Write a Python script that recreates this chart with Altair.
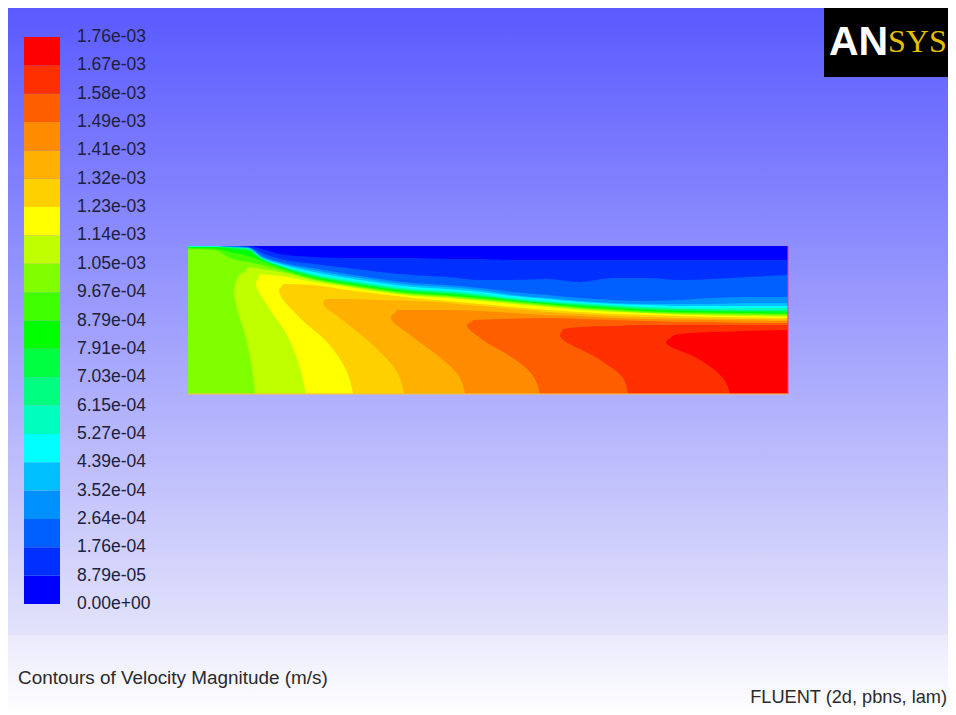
import altair as alt
import pandas as pd

PALETTE = ["#0000ff", "#0030ff", "#0060ff", "#0090ff", "#00bfff", "#00ffff", "#00ffbf",
           "#00ff80", "#00ff40", "#00ff00", "#40ff00", "#80ff00", "#bfff00", "#ffff00",
           "#ffd000", "#ffb000", "#ff8c00", "#ff5e00", "#ff3000", "#ff0000"]
LEVELS = [0.0, 8.79e-5, 1.758e-4, 2.637e-4, 3.516e-4, 4.395e-4, 5.274e-4, 6.153e-4, 7.032e-4, 7.911e-4, 8.79e-4,
          9.669e-4, 1.0548e-3, 1.1427e-3, 1.2306e-3, 1.3185e-3, 1.4064e-3, 1.4943e-3, 1.5822e-3, 1.6701e-3, 1.758e-3]
LABELS = ["0.00e+00", "8.79e-05", "1.76e-04", "2.64e-04", "3.52e-04", "4.39e-04", "5.27e-04", "6.15e-04",
          "7.03e-04", "7.91e-04", "8.79e-04", "9.67e-04", "1.05e-03", "1.14e-03", "1.23e-03", "1.32e-03",
          "1.41e-03", "1.49e-03", "1.58e-03", "1.67e-03", "1.76e-03"]

# Channel extent, in picture coordinates
X0, X1, Y0, Y1 = 188, 788, 246, 394

# Contours that run along the free surface: (colour band above the curve, x readings, y readings)
S = [188, 215, 230, 248, 262, 280, 313, 347, 380, 413, 447, 480, 513, 547, 580, 613, 647, 680, 713, 747, 788]
UPPER = [
    (18, [672, 680, 713, 747, 788], [336, 334, 332, 331, 330]),
    (17, [563, 580, 613, 647, 680, 713, 747, 788], [329, 327, 326, 325, 325, 325, 325, 325]),
    (16, [473, 500, 547, 580, 613, 647, 680, 713, 747, 788], [320, 319, 318, 319, 320, 321, 322, 322, 323, 323]),
    (15, [397, 413, 447, 480, 513, 547, 580, 613, 647, 680, 713, 747, 788],
     [310, 310, 310, 311, 313, 315, 316, 318, 319, 319.5, 320, 320.5, 321]),
    (14, [325, 347, 380, 413, 447, 480, 513, 547, 580, 613, 647, 680, 713, 747, 788],
     [299, 299, 300, 301, 303, 306, 309, 312, 314, 316, 317, 318, 318.5, 319, 319.5]),
    (13, [283, 313, 347, 380, 413, 447, 480, 513, 547, 580, 613, 647, 680, 713, 747, 788],
     [284, 285, 290, 294, 298, 301, 304, 307, 310, 312, 314, 315, 316, 317, 317.5, 318]),
    (12, [260, 280, 313, 347, 380, 413, 447, 480, 513, 547, 580, 613, 647, 680, 713, 747, 788],
     [274, 276, 282, 287, 292, 296, 298, 301, 304, 307, 310, 312, 313, 314.5, 315.5, 316, 316.5]),
    (11, S[3:], [267, 269, 272, 280, 286, 291, 295, 297, 300, 303, 306, 309, 311, 313, 314, 314.5, 315, 315.5]),
    (10, S, [249, 250, 258, 262, 265, 270, 279, 285, 290, 294, 296, 299, 302, 305, 308, 310, 312, 313, 313.5, 314, 314.5]),
    (9, S, [248, 248.5, 252, 256, 261, 268, 278, 284, 289, 293, 295, 298, 301, 304, 307, 309, 311, 312, 312.5, 313, 313.5]),
    (8, S, [247, 247, 249, 251, 260, 267, 277, 283, 288, 292, 294, 297, 300, 303, 306, 308, 310, 311, 311.5, 312, 312.5]),
    (7, S, [247, 247, 248, 250, 259, 266, 276, 282, 287, 291, 293, 296, 300, 303, 305, 307, 309, 310, 310.5, 311, 311]),
    (6, S, [246.5, 247, 247, 249, 259, 266, 275, 281, 286, 290, 292, 295, 299, 302, 304, 306, 308, 309, 309.5, 310, 310]),
    (5, S, [246.5, 246.5, 247, 248, 258, 265, 274, 280, 285, 289, 291, 294, 298, 301, 303, 305, 307, 308, 308.5, 308, 308]),
    (4, S, [246, 246, 247, 248, 258, 264, 272, 278, 283, 287, 289, 292, 296, 299, 302, 304, 305, 306, 306, 306, 306]),
    (3, S, [246, 246, 247, 248, 257, 263, 270, 276, 281, 285, 287, 290, 295, 298, 301, 303, 304, 304, 304, 303, 303]),
    (2, S, [246, 246, 246, 247, 256, 262, 268, 274, 279, 283, 285, 288, 292, 295, 298, 300, 301, 300, 298, 297, 297]),
    (1, S, [246, 246, 246, 247, 253, 259, 264, 268, 272, 275, 277, 280, 280, 279, 282, 278, 278, 280, 279, 277, 275]),
    (0, S, [246, 246, 246, 246, 249, 254, 257, 258, 258, 258, 259, 259, 260, 260, 260, 260, 260, 260, 260, 260, 260]),
]
# Contours that rise from the channel floor: (colour band to the right, y readings, x readings)
LOWER = [
    (12, [267, 277, 292, 308, 335, 368, 394], [248, 238, 234, 237, 245, 252, 255]),
    (13, [274, 283, 305, 335, 368, 394], [260, 256, 267, 287, 300, 306]),
    (14, [284, 290, 315, 342, 372, 394], [283, 279, 297, 327, 347, 353]),
    (15, [299, 303, 318, 345, 372, 394], [325, 323, 340, 373, 397, 404]),
    (16, [310, 317, 335, 355, 375, 394], [397, 391, 410, 437, 458, 465]),
    (17, [320, 325, 338, 358, 372, 394], [473, 467, 480, 513, 530, 540]),
    (18, [329, 335, 358, 378, 394], [563, 560, 597, 623, 628]),
    (19, [336, 342, 358, 378, 394], [672, 666, 697, 723, 730]),
]
BASE_BAND = 11

W, H = 940, 707
XS = alt.Scale(domain=[8, 8 + W], range=[0, W])
YS = alt.Scale(domain=[8, 8 + H], range=[0, H])
VS = alt.Scale(domain=[0, 1.758e-3], range=[596, 29])


def X(f):
    return alt.X(f, type="quantitative", scale=XS, axis=None)


def Y(f):
    return alt.Y(f, type="quantitative", scale=YS, axis=None)


def box(x, x2, y, y2, fill):
    d = pd.DataFrame({"x": [x], "x2": [x2], "y": [y], "y2": [y2]})
    return alt.Chart(d).mark_rect(fill=fill, color=fill).encode(
        x=X("x"), x2=alt.X2("x2"), y=Y("y"), y2=alt.Y2("y2"))


def text(x, y, s, **kw):
    d = pd.DataFrame({"x": [x], "y": [y], "t": [s]})
    return alt.Chart(d).mark_text(baseline="middle", **kw).encode(x=X("x"), y=Y("y"), text="t:N")


layers = []
bg = {"gradient": "linear", "x1": 0, "y1": 0, "x2": 0, "y2": 1,
      "stops": [{"offset": 0, "color": "#5a5aff"}, {"offset": 1, "color": "#e3e3fb"}]}
foot = {"gradient": "linear", "x1": 0, "y1": 0, "x2": 0, "y2": 1,
        "stops": [{"offset": 0, "color": "#eaeafc"}, {"offset": 1, "color": "#ffffff"}]}
layers.append(box(8, 8 + W, 8, 635, bg))
layers.append(box(8, 8 + W, 635, 8 + H, foot))

# Colour bar
bar = pd.DataFrame({"lo": LEVELS[:-1], "hi": LEVELS[1:], "band": PALETTE})
layers.append(alt.Chart(bar).mark_rect().encode(
    x=alt.value(16), x2=alt.value(52),
    y=alt.Y("lo:Q", scale=VS, axis=None), y2="hi:Q",
    fill=alt.Fill("band:N", scale=None)))
lab = pd.DataFrame({"v": LEVELS, "t": LABELS})
layers.append(alt.Chart(lab).mark_text(align="left", baseline="middle", font="Liberation Sans",
                                       fontSize=17.5, color="#20203a").encode(
    x=alt.value(69), y=alt.Y("v:Q", scale=VS, axis=None), text="t:N"))

# Contours
layers.append(box(X0, X1, Y0, Y1, PALETTE[BASE_BAND]))
for band, ys, xs in LOWER:
    d = pd.DataFrame({"y": [Y0] + ys, "x": [xs[0]] + xs, "x2": X1})
    layers.append(alt.Chart(d).mark_area(orient="horizontal", interpolate="monotone", fill=PALETTE[band], color=PALETTE[band]).encode(
        y=Y("y"), x=X("x"), x2=alt.X2("x2")))
for band, xs, ys in UPPER:
    d = pd.DataFrame({"x": xs, "y": ys, "y2": Y0})
    layers.append(alt.Chart(d).mark_area(orient="vertical", interpolate="monotone", fill=PALETTE[band], color=PALETTE[band]).encode(
        x=X("x"), y=Y("y"), y2=alt.Y2("y2")))

# Edge lines of the channel
edge_r = pd.DataFrame({"x": [X1], "y": [Y0], "y2": [Y1]})
layers.append(alt.Chart(edge_r).mark_rule(color="#d8409a", strokeWidth=1.5, opacity=0.7).encode(
    x=X("x"), y=Y("y"), y2=alt.Y2("y2")))
edge_b = pd.DataFrame({"x": [X0], "x2": [X1], "y": [Y1]})
layers.append(alt.Chart(edge_b).mark_rule(color="#ffc040", strokeWidth=1.5, opacity=0.7).encode(
    x=X("x"), x2=alt.X2("x2"), y=Y("y")))

# Logo
layers.append(box(824, 8 + W, 8, 77, "#000000"))
layers.append(text(829, 43, "AN", align="left", font="Liberation Sans", fontWeight="bold", fontSize=41, color="#ffffff"))
layers.append(text(888, 42, "SYS", align="left", font="Liberation Serif", fontSize=32, color="#e6c000"))

# Footer text
layers.append(text(18, 678, "Contours of Velocity Magnitude (m/s)", align="left", font="Liberation Sans", fontSize=18.9, color="#2a2a2a"))
layers.append(text(947, 698, "FLUENT (2d, pbns, lam)", align="right", font="Liberation Sans", fontSize=18.2, color="#2a2a2a"))

chart = alt.layer(*layers).resolve_scale(y="independent", x="independent", fill="independent").properties(
    width=W, height=H, padding=0, autosize=alt.AutoSizeParams(type="none"),
    background="#ffffff"
).configure_view(stroke=None)

chart.save("out.html", embed_options={"renderer": "svg", "actions": False})
